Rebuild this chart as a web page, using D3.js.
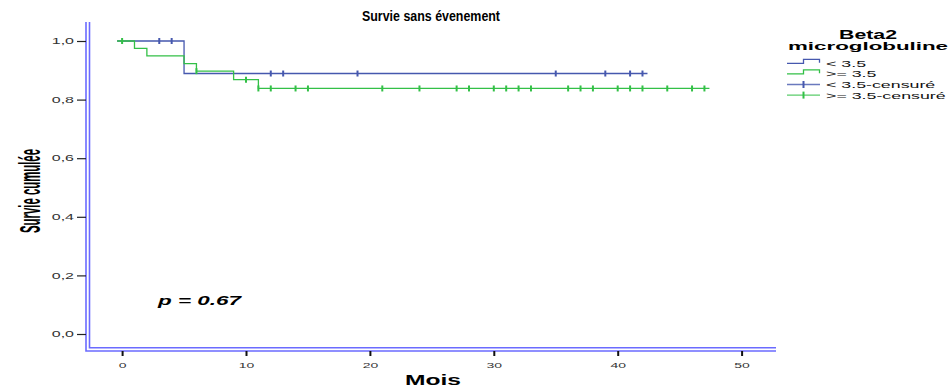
<!DOCTYPE html>
<html>
<head>
<meta charset="utf-8">
<script src="https://cdn.jsdelivr.net/npm/d3@7/dist/d3.min.js"></script>
<style>
  html, body { margin: 0; padding: 0; background: #fff; }
  svg { display: block; }
  text { font-family: "Liberation Sans", Arial, sans-serif; }
</style>
</head>
<body>
<script>
// Kaplan–Meier curves: survival after each event time, plus censored follow-up times
const lowTimes = [0, 5];
const lowSurv = [1.0, 0.889];
const lowCensored = [3, 4, 12, 13, 19, 35, 39, 41, 42];

const highTimes = [0, 1, 2, 5, 6, 9, 11];
const highSurv = [1.0, 0.975, 0.949, 0.923, 0.897, 0.868, 0.838];
const highCensored = [0, 6, 10, 11, 12, 14, 15, 21, 24, 27, 28, 30, 31, 32, 33, 36, 37, 38, 40, 41, 42, 44, 46, 47];

const xTicks = [0, 10, 20, 30, 40, 50];
const yTicks = [0, 0.2, 0.4, 0.6, 0.8, 1.0];
const legendLabels = ["< 3.5", ">= 3.5", "< 3.5-censuré", ">= 3.5-censuré"];
const pValueLabel = "p = 0.67";

const W = 950, H = 387;
const BLUE = "#4658ae", GREEN = "#33c047", FRAME = "#6b6bff";

const svg = d3.select("body").append("svg").attr("width", W).attr("height", H);

const x = d3.scaleLinear().domain([0, 50]).range([122.1, 741.6]);
const y = d3.scaleLinear().domain([0, 1]).range([334, 41]);

const frameLeft = 86, frameBottom = 351, frameTop = 22, frameRight = 776;

// double-line frame (left and bottom)
const frame = svg.append("g").attr("stroke", FRAME).attr("fill", "none").attr("stroke-width", 1.6);
frame.append("path").attr("d", `M${frameLeft},${frameTop}V${frameBottom}H${frameRight}`);
frame.append("path").attr("d", `M${frameLeft + 3.5},${frameTop}V${frameBottom - 3.2}H${frameRight}`);

// y axis
const yAxis = d3.axisLeft(y).tickValues(yTicks).tickSize(9).tickPadding(3)
  .tickFormat(d => d3.format(".1f")(d).replace(".", ","));
const gy = svg.append("g").attr("transform", `translate(${frameLeft},0)`).call(yAxis);
gy.select(".domain").remove();
gy.selectAll(".tick line").attr("stroke", "#222").attr("stroke-width", 1.2);
gy.selectAll(".tick text").attr("font-size", 16).attr("fill", "#333")
  .attr("transform", "scale(1,0.52)");

// x axis
const xAxis = d3.axisBottom(x).tickValues(xTicks).tickSize(5).tickPadding(4);
const gx = svg.append("g").attr("transform", `translate(0,${frameBottom})`).call(xAxis);
gx.select(".domain").remove();
gx.selectAll(".tick line").attr("stroke", "#111").attr("stroke-width", 2);
gx.selectAll(".tick text").attr("font-size", 14).attr("fill", "#333")
  .attr("transform", "scale(1,0.56)").attr("dy", "1.5em");

// step path of a survival curve, extended to the last follow-up time
function stepPath(times, surv, lastTime) {
  let d = `M${x(times[0]) - 5},${y(surv[0])}`;
  for (let i = 1; i < times.length; i++) {
    d += `H${x(times[i])}V${y(surv[i])}`;
  }
  d += `H${x(lastTime) + 5}`;
  return d;
}
function survAt(times, surv, t) {
  let s = surv[0];
  for (let i = 0; i < times.length; i++) if (times[i] <= t) s = surv[i];
  return s;
}

const curves = [
  { times: lowTimes, surv: lowSurv, cens: lowCensored, color: BLUE },
  { times: highTimes, surv: highSurv, cens: highCensored, color: GREEN }
];

curves.forEach(c => {
  const last = Math.max(d3.max(c.times), d3.max(c.cens));
  svg.append("path").attr("d", stepPath(c.times, c.surv, last))
    .attr("fill", "none").attr("stroke", c.color).attr("stroke-width", 1.3);
  svg.append("g").selectAll("line").data(c.cens).join("line")
    .attr("x1", d => x(d)).attr("x2", d => x(d))
    .attr("y1", d => y(survAt(c.times, c.surv, d)) - 3)
    .attr("y2", d => y(survAt(c.times, c.surv, d)) + 3)
    .attr("stroke", c.color).attr("stroke-width", 2);
});

// title
svg.append("text").attr("x", 431).attr("y", 21)
  .attr("text-anchor", "middle").attr("font-size", 15.5).attr("font-weight", "bold")
  .attr("textLength", 138).attr("lengthAdjust", "spacingAndGlyphs")
  .text("Survie sans évenement");

// axis titles
svg.append("text").attr("transform", "translate(433,384.5) scale(1,0.62)")
  .attr("text-anchor", "middle").attr("font-size", 24).attr("font-weight", "bold")
  .attr("textLength", 56).attr("lengthAdjust", "spacingAndGlyphs")
  .text("Mois");
svg.append("text").attr("transform", "translate(40,191) rotate(-90)")
  .attr("text-anchor", "middle").attr("font-size", 30).attr("font-weight", "bold")
  .style("font-family", "'Liberation Sans Narrow', 'Liberation Sans', Arial, sans-serif")
  .attr("textLength", 84).attr("lengthAdjust", "spacingAndGlyphs")
  .text("Survie cumulée");

// p-value
svg.append("text").attr("transform", "translate(158,305) scale(1,0.55)")
  .attr("font-size", 22).attr("font-weight", "bold").attr("font-style", "italic")
  .attr("textLength", 83).attr("lengthAdjust", "spacingAndGlyphs")
  .text(pValueLabel);

// legend
const lg = svg.append("g");
lg.append("text").attr("transform", "translate(868,39) scale(1,0.55)")
  .attr("text-anchor", "middle").attr("font-size", 22).attr("font-weight", "bold")
  .attr("textLength", 58).attr("lengthAdjust", "spacingAndGlyphs").text("Beta2");
lg.append("text").attr("transform", "translate(868,50) scale(1,0.46)")
  .attr("text-anchor", "middle").attr("font-size", 22).attr("font-weight", "bold")
  .attr("textLength", 160).attr("lengthAdjust", "spacingAndGlyphs").text("microglobuline");

const legendColors = [BLUE, GREEN, BLUE, GREEN];
const item = lg.selectAll("g.item").data(legendLabels).join("g").attr("class", "item")
  .attr("transform", (d, i) => `translate(787,${63.3 + i * 10.6})`);
item.each(function(d, i) {
  const g = d3.select(this);
  if (i < 2) {
    g.append("path").attr("d", "M0,0H16.5V-4H32.5V-0.6").attr("fill", "none")
      .attr("stroke", legendColors[i]).attr("stroke-width", 1.3);
  } else {
    g.append("path").attr("d", "M0,0H33").attr("stroke", legendColors[i]).attr("stroke-width", 1.3).attr("opacity", 0.8);
    g.append("path").attr("d", "M16.5,-3.5V3.5").attr("stroke", legendColors[i]).attr("stroke-width", 2);
  }
  g.append("text").attr("transform", "translate(39,3.5) scale(1,0.5)")
    .attr("font-size", 17.8).attr("fill", "#111").text(d);
});
</script>
</body>
</html>
